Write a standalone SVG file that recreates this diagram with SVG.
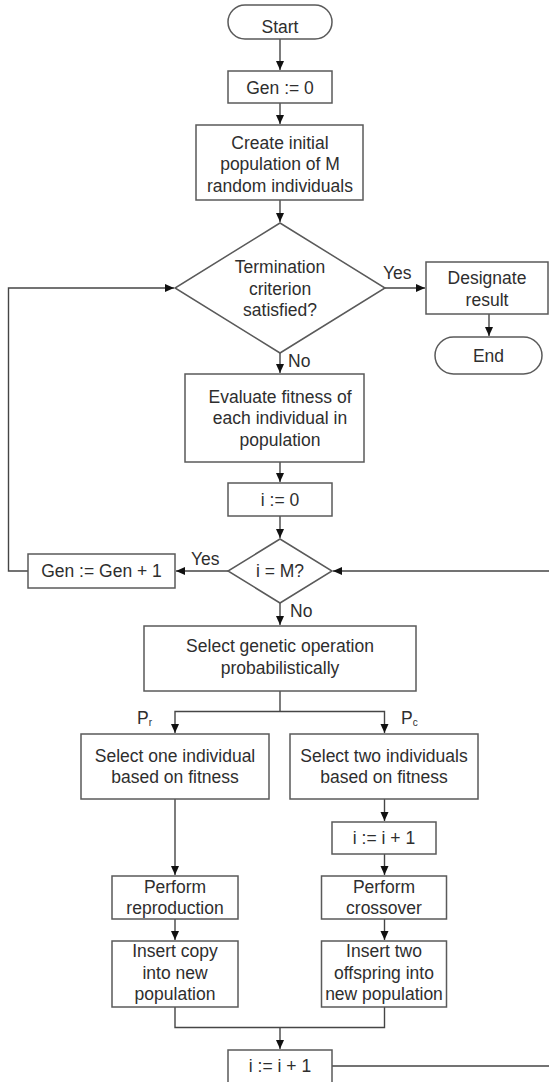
<svg xmlns="http://www.w3.org/2000/svg" width="549" height="1082" viewBox="0 0 549 1082">
<style>
  .box{fill:#fff;stroke:#5a5a5a;stroke-width:1.5}
  .t{font-family:"Liberation Sans",Arial,sans-serif;font-size:17.5px;fill:#2e2e2e;text-anchor:middle}
  .lbl{font-family:"Liberation Sans",Arial,sans-serif;font-size:17.5px;fill:#2e2e2e}
  .sub{font-size:10px}
  .c{fill:none;stroke:#454545;stroke-width:1.4}
</style>
<defs>
  <marker id="ah" markerUnits="userSpaceOnUse" markerWidth="10" markerHeight="10" refX="9" refY="5" orient="auto">
    <path d="M0,1 L9,5 L0,9 Z" fill="#111"/>
  </marker>
</defs>
<rect width="549" height="1082" fill="#fff"/>
<g id="connectors">
  <path class="c" d="M280,39 V70" marker-end="url(#ah)"/>
  <path class="c" d="M280,103 V124" marker-end="url(#ah)"/>
  <path class="c" d="M280,200 V222" marker-end="url(#ah)"/>
  <path class="c" d="M385,288 H425" marker-end="url(#ah)"/>
  <path class="c" d="M489,314 V336" marker-end="url(#ah)"/>
  <path class="c" d="M280,353 V373" marker-end="url(#ah)"/>
  <path class="c" d="M280,462 V482" marker-end="url(#ah)"/>
  <path class="c" d="M280,516 V538" marker-end="url(#ah)"/>
  <path class="c" d="M228,571 H176" marker-end="url(#ah)"/>
  <path class="c" d="M28,571 H8.5 V288 H174" marker-end="url(#ah)"/>
  <path class="c" d="M280,603 V625" marker-end="url(#ah)"/>
  <path class="c" d="M280,691 V711.5"/>
  <path class="c" d="M280,711.5 H175 V733" marker-end="url(#ah)"/>
  <path class="c" d="M280,711.5 H384.5 V733" marker-end="url(#ah)"/>
  <path class="c" d="M175,799 V875" marker-end="url(#ah)"/>
  <path class="c" d="M384.5,799 V821" marker-end="url(#ah)"/>
  <path class="c" d="M384.5,854 V875" marker-end="url(#ah)"/>
  <path class="c" d="M175,919 V940" marker-end="url(#ah)"/>
  <path class="c" d="M384.5,919 V940" marker-end="url(#ah)"/>
  <path class="c" d="M175,1007 V1027.5 H384.5 V1007"/>
  <path class="c" d="M280,1027.5 V1049" marker-end="url(#ah)"/>
  <path class="c" d="M332,1066 H553 V571 H333" marker-end="url(#ah)"/>
  <text class="lbl" x="383" y="279">Yes</text>
  <text class="lbl" x="288" y="367">No</text>
  <text class="lbl" x="191" y="565">Yes</text>
  <text class="lbl" x="290" y="617">No</text>
  <text class="lbl" x="137" y="724">P<tspan class="sub" dy="2">r</tspan></text>
  <text class="lbl" x="401" y="724">P<tspan class="sub" dy="2">c</tspan></text>
</g>
<g id="start">
  <rect class="box" x="228" y="5" width="104" height="34" rx="17"/>
  <text class="t" x="280" y="33">Start</text>
</g>
<g id="gen0">
  <rect class="box" x="228" y="71" width="104" height="32"/>
  <text class="t" x="280" y="94">Gen := 0</text>
</g>
<g id="create">
  <rect class="box" x="196" y="125" width="167" height="75"/>
  <text class="t" x="280" y="148.5">Create initial</text>
  <text class="t" x="280" y="170">population of M</text>
  <text class="t" x="280" y="191.5">random individuals</text>
</g>
<g id="termination">
  <polygon class="box" points="280,223 385,288 280,353 175,288"/>
  <text class="t" x="280" y="273">Termination</text>
  <text class="t" x="280" y="294.5">criterion</text>
  <text class="t" x="280" y="316">satisfied?</text>
</g>
<g id="designate">
  <rect class="box" x="426" y="262" width="122" height="52"/>
  <text class="t" x="487" y="284">Designate</text>
  <text class="t" x="487" y="305.5">result</text>
</g>
<g id="end">
  <rect class="box" x="435" y="337" width="107" height="37" rx="18.5"/>
  <text class="t" x="488.5" y="361.5">End</text>
</g>
<g id="evaluate">
  <rect class="box" x="185" y="374" width="179" height="88"/>
  <text class="t" x="280" y="402.5">Evaluate fitness of</text>
  <text class="t" x="280" y="424">each individual in</text>
  <text class="t" x="280" y="445.5">population</text>
</g>
<g id="i0">
  <rect class="box" x="228" y="483" width="104" height="33"/>
  <text class="t" x="280" y="505.5">i := 0</text>
</g>
<g id="ieqm">
  <polygon class="box" points="280,539 332,571 280,603 228,571"/>
  <text class="t" x="280" y="577">i = M?</text>
</g>
<g id="genplus">
  <rect class="box" x="28" y="554" width="147" height="34"/>
  <text class="t" x="101.5" y="577">Gen := Gen + 1</text>
</g>
<g id="selectop">
  <rect class="box" x="144" y="626" width="272" height="65"/>
  <text class="t" x="280" y="652">Select genetic operation</text>
  <text class="t" x="280" y="674">probabilistically</text>
</g>
<g id="selectone">
  <rect class="box" x="81" y="734" width="188" height="65"/>
  <text class="t" x="175" y="761.5">Select one individual</text>
  <text class="t" x="175" y="783">based on fitness</text>
</g>
<g id="selecttwo">
  <rect class="box" x="290" y="734" width="188" height="65"/>
  <text class="t" x="384" y="761.5">Select two individuals</text>
  <text class="t" x="384" y="783">based on fitness</text>
</g>
<g id="iplus1a">
  <rect class="box" x="332" y="822" width="104" height="32"/>
  <text class="t" x="384" y="844">i := i + 1</text>
</g>
<g id="reproduction">
  <rect class="box" x="112" y="876" width="126" height="43"/>
  <text class="t" x="175" y="893">Perform</text>
  <text class="t" x="175" y="914">reproduction</text>
</g>
<g id="crossover">
  <rect class="box" x="321.5" y="876" width="125" height="43"/>
  <text class="t" x="384" y="893">Perform</text>
  <text class="t" x="384" y="914">crossover</text>
</g>
<g id="insertcopy">
  <rect class="box" x="112" y="941" width="126" height="66"/>
  <text class="t" x="175" y="957">Insert copy</text>
  <text class="t" x="175" y="978.5">into new</text>
  <text class="t" x="175" y="1000">population</text>
</g>
<g id="inserttwo">
  <rect class="box" x="321.5" y="941" width="125" height="66"/>
  <text class="t" x="384" y="957">Insert two</text>
  <text class="t" x="384" y="978.5">offspring into</text>
  <text class="t" x="384" y="1000">new population</text>
</g>
<g id="iplus1b">
  <rect class="box" x="228" y="1050" width="104" height="33"/>
  <text class="t" x="280" y="1072">i := i + 1</text>
</g>
</svg>
